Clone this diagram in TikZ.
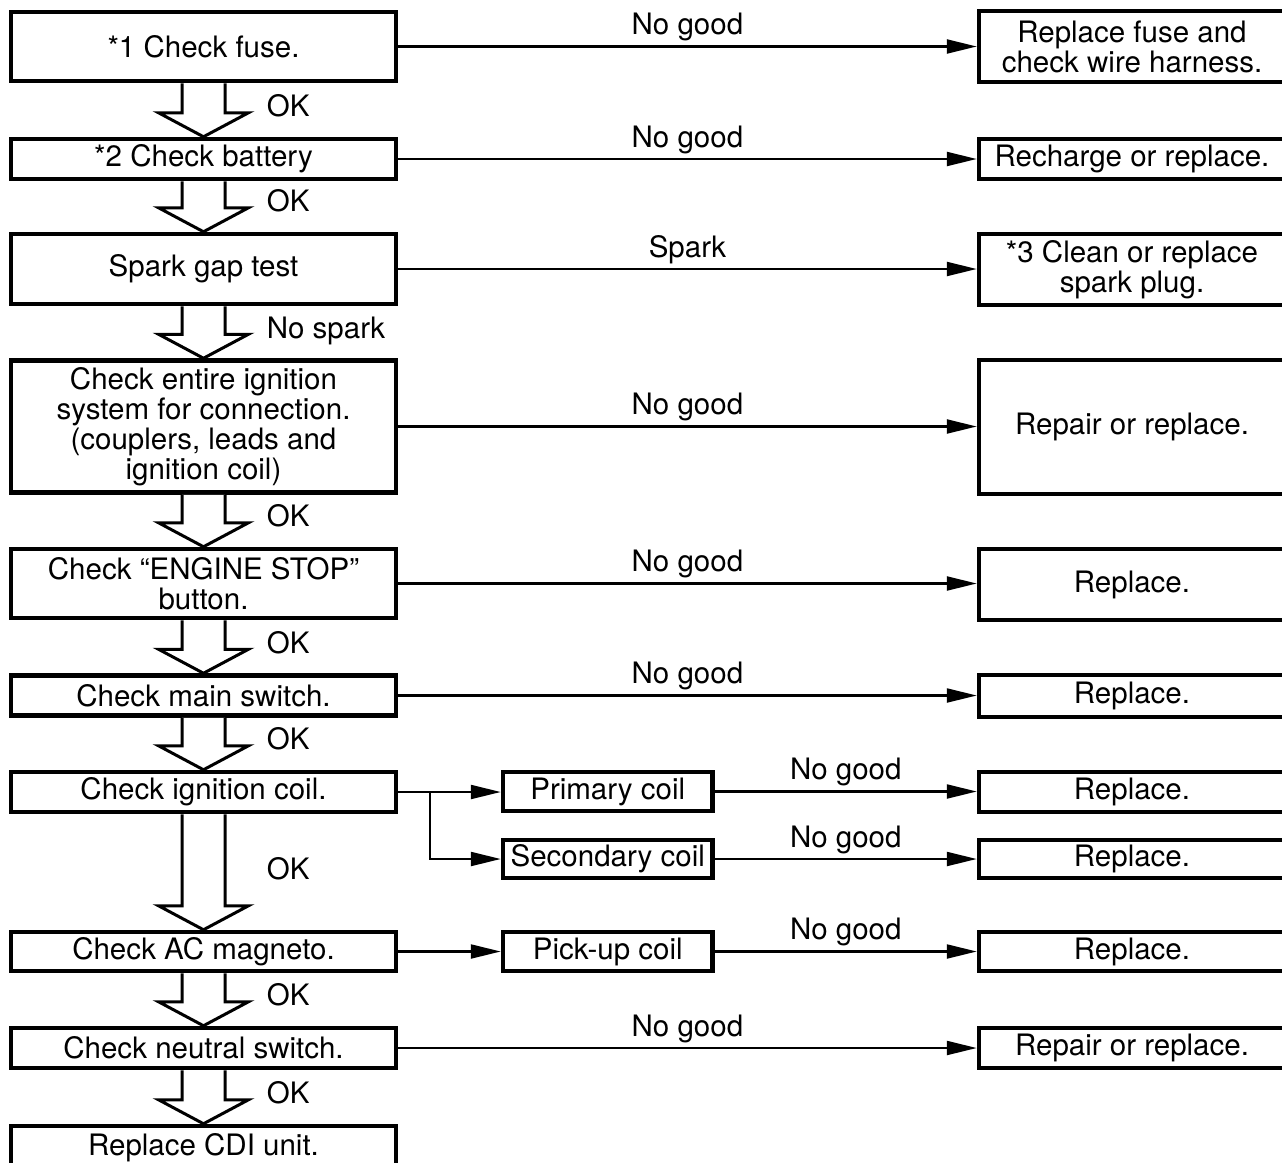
\documentclass[tikz,border=0pt]{standalone}
\usepackage{fontspec}
\setmainfont{TeX Gyre Heros}
\usetikzlibrary{arrows.meta,calc}
\tikzset{
  every node/.style={font=\fontsize{29.5}{30}\selectfont},
  lbox/.style={draw,line width=4.5pt,inner sep=0pt,align=center,minimum width=384.6pt},
  rbox/.style={draw,line width=4.5pt,inner sep=0pt,align=center,minimum width=306pt},
  mbox/.style={draw,line width=4.5pt,inner sep=0pt,align=center,minimum width=209.5pt},
  conn/.style={line width=2.2pt,-{Triangle[length=30pt,width=14pt]}},
  hollow/.style={draw,line width=3pt,fill=white,line join=miter},
  lab/.style={midway,anchor=base,yshift=12pt}
}
\newcommand{\holarrow}[3]{%
  \draw[hollow] let \p1=(#1.south), \p2=(#2.north) in
    (\x1-21.5pt,\y1) -- (\x1-21.5pt,\y2+24pt) -- (\x1-45pt,\y2+24pt) -- (\x1,\y2)
    -- (\x1+45pt,\y2+24pt) -- (\x1+21.5pt,\y2+24pt) -- (\x1+21.5pt,\y1)
    (\x1+58.5pt,\y2+20pt) node[anchor=base west] {#3};}
\begin{document}
\begin{tikzpicture}[x=1pt,y=-1pt]
\useasboundingbox (0,0) rectangle (1282,1162);
\clip (0,0) rectangle (1282,1162);
% left column
\node[lbox,minimum height=69pt] (L1) at (203.5,46.5) {*1 Check fuse.};
\node[lbox,minimum height=40pt] (L2) at (203.5,159) {*2 Check battery};
\node[lbox,minimum height=70pt] (L3) at (203.5,269) {Spark gap test};
\node[lbox,minimum height=132pt] (L4) at (203.5,426.5) {Check entire ignition\\system for connection.\\(couplers, leads and\\ignition coil)};
\node[lbox,minimum height=69pt] (L5) at (203.5,583.5) {Check “ENGINE STOP”\\button.};
\node[lbox,minimum height=40pt] (L6) at (203.5,695.5) {Check main switch.};
\node[lbox,minimum height=40pt] (L7) at (203.5,792) {Check ignition coil.};
\node[lbox,minimum height=39pt] (L8) at (203.5,951.5) {Check AC magneto.};
\node[lbox,minimum height=40pt] (L9) at (203.5,1048) {Check neutral switch.};
\node[lbox,minimum height=44pt] (L10) at (203.5,1148) {Replace CDI unit.};
% middle column
\node[mbox,minimum height=39pt] (M1) at (607.75,791.5) {Primary coil};
\node[mbox,minimum height=38pt] (M2) at (607.75,859) {Secondary coil};
\node[mbox,minimum height=39pt] (M3) at (607.75,951.5) {Pick-up coil};
% right column
\node[rbox,minimum height=71pt] (R1) at (1132,46.5) {Replace fuse and\\check wire harness.};
\node[rbox,minimum height=40pt] (R2) at (1132,159) {Recharge or replace.};
\node[rbox,minimum height=71pt] (R3) at (1132,269.5) {*3 Clean or replace\\spark plug.};
\node[rbox,minimum height=134pt] (R4) at (1132,427) {Repair or replace.};
\node[rbox,minimum height=71pt] (R5) at (1132,584.5) {Replace.};
\node[rbox,minimum height=42pt] (R6) at (1132,696) {Replace.};
\node[rbox,minimum height=40pt] (R7) at (1132,792) {Replace.};
\node[rbox,minimum height=38pt] (R8) at (1132,859) {Replace.};
\node[rbox,minimum height=39pt] (R9) at (1132,951.5) {Replace.};
\node[rbox,minimum height=40pt] (R10) at (1132,1048) {Repair or replace.};
% horizontal connectors
\draw[conn] (L1.east) -- (R1.west |- L1.east) node[lab] {No good};
\draw[conn] (L2.east) -- (R2.west |- L2.east) node[lab] {No good};
\draw[conn] (L3.east) -- (R3.west |- L3.east) node[lab] {Spark};
\draw[conn] (L4.east) -- (R4.west |- L4.east) node[lab] {No good};
\draw[conn] (L5.east) -- (R5.west |- L5.east) node[lab] {No good};
\draw[conn] (L6.east) -- (R6.west |- L6.east) node[lab] {No good};
\draw[conn] (L7.east) -- (M1.west |- L7.east);
\coordinate (br) at (430,792);
\draw[conn] (br) |- (M2.west);
\draw[conn] (M1.east) -- (R7.west |- M1.east) node[lab] {No good};
\draw[conn] (M2.east) -- (R8.west |- M2.east) node[lab] {No good};
\draw[conn] (L8.east) -- (M3.west |- L8.east);
\draw[conn] (M3.east) -- (R9.west |- M3.east) node[lab] {No good};
\draw[conn] (L9.east) -- (R10.west |- L9.east) node[lab] {No good};
% hollow arrows
\holarrow{L1}{L2}{OK}
\holarrow{L2}{L3}{OK}
\holarrow{L3}{L4}{No spark}
\holarrow{L4}{L5}{OK}
\holarrow{L5}{L6}{OK}
\holarrow{L6}{L7}{OK}
\draw[hollow] let \p1=(L7.south), \p2=(L8.north) in
    (\x1-21.5pt,\y1) -- (\x1-21.5pt,\y2+24pt) -- (\x1-45pt,\y2+24pt) -- (\x1,\y2)
    -- (\x1+45pt,\y2+24pt) -- (\x1+21.5pt,\y2+24pt) -- (\x1+21.5pt,\y1)
    (\x1+58.5pt,{(\y1+\y2)/2-7pt}) node[anchor=base west] {OK};
\holarrow{L8}{L9}{OK}
\holarrow{L9}{L10}{OK}
\end{tikzpicture}
\end{document}
